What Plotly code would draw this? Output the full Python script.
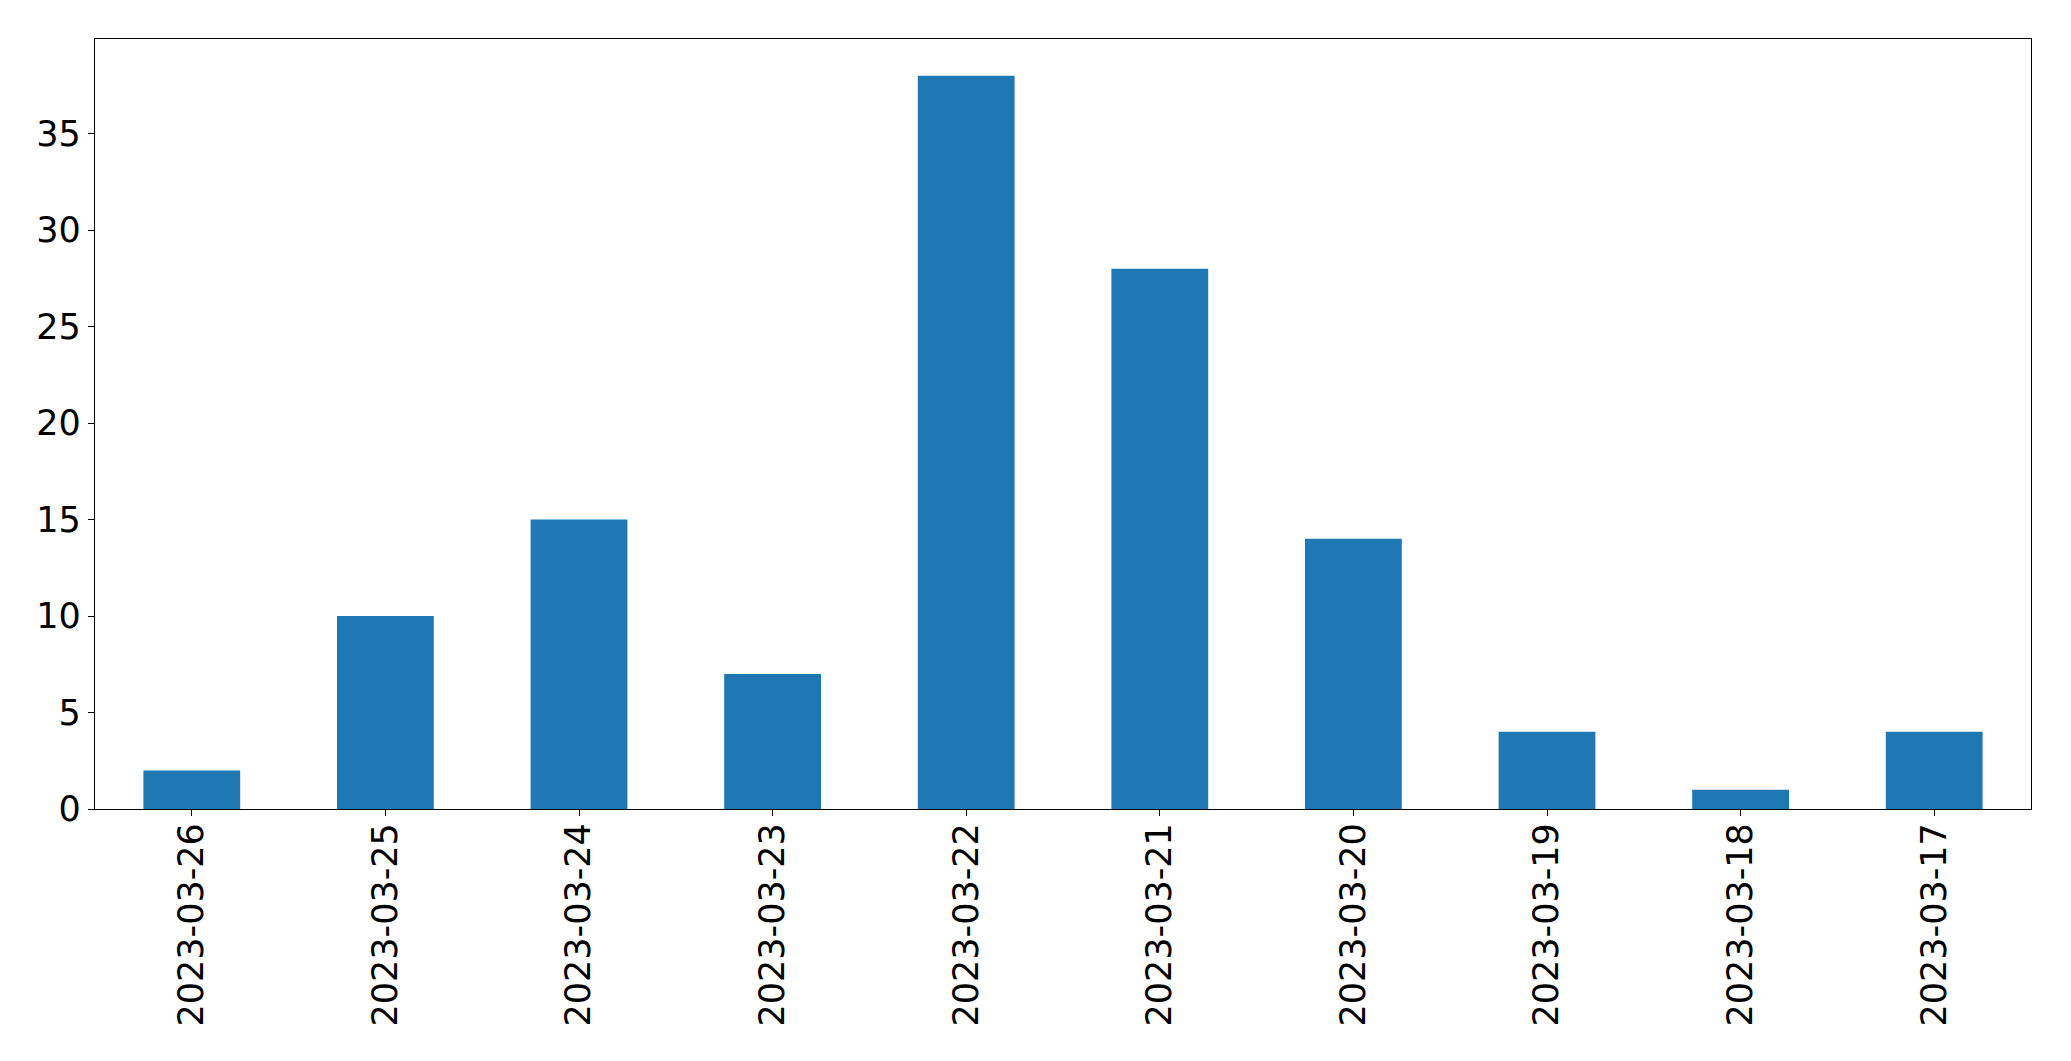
import plotly.graph_objects as go

dates = ["2023-03-26", "2023-03-25", "2023-03-24", "2023-03-23", "2023-03-22",
         "2023-03-21", "2023-03-20", "2023-03-19", "2023-03-18", "2023-03-17"]
counts = [2, 10, 15, 7, 38, 28, 14, 4, 1, 4]
y_ticks = [0, 5, 10, 15, 20, 25, 30, 35]

fig = go.Figure(go.Bar(x=dates, y=counts, marker_color="#1f77b4",
                       marker_line_width=0, width=0.5))

# page body has an 8px default margin; compensate
W, H = 2063, 1053
fig.update_layout(
    width=W, height=H,
    margin=dict(l=87, r=40, t=31, b=252, pad=0, autoexpand=False),
    paper_bgcolor="white", plot_bgcolor="white",
    font=dict(family="DejaVu Sans", size=35, color="black"),
    showlegend=False,
)
fig.update_xaxes(type="category", range=[-0.5, 9.5], tickangle=-90,
                 showline=True, linecolor="black", linewidth=1.3, mirror=True,
                 ticks="outside", ticklen=6, tickwidth=1.3, tickcolor="black",
                 showgrid=False, zeroline=False, ticklabelstandoff=-7)
fig.update_yaxes(range=[0, 39.9], tickvals=y_ticks,
                 showline=True, linecolor="black", linewidth=1.3, mirror=True,
                 ticks="outside", ticklen=6, tickwidth=1.3, tickcolor="black",
                 showgrid=False, zeroline=False)

fig.write_html("out.html")
